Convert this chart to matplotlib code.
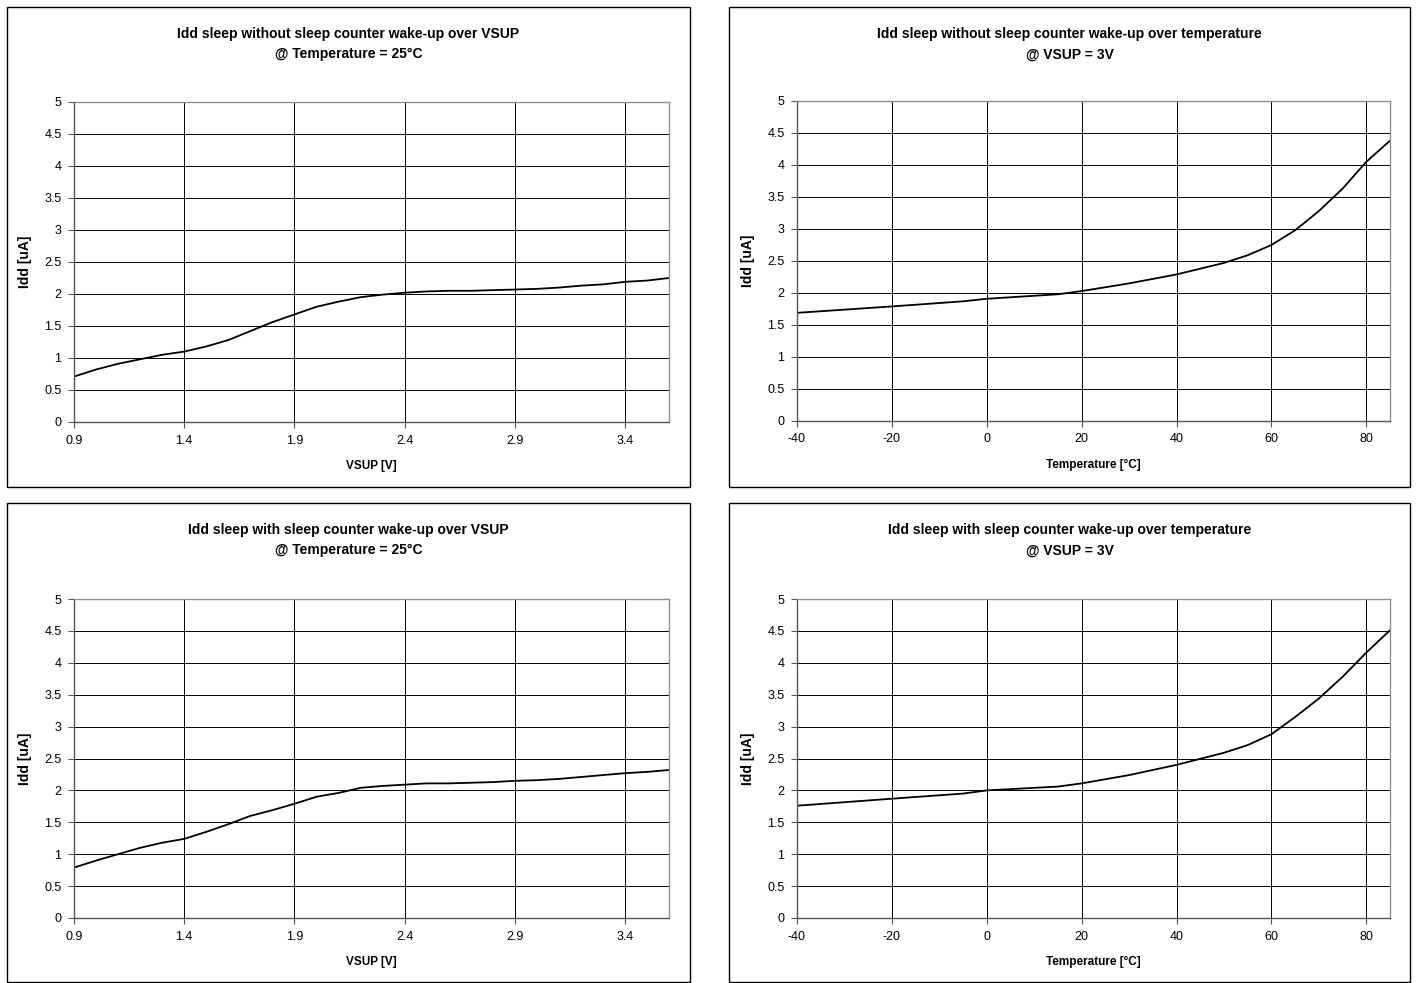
import numpy as np
import matplotlib
matplotlib.use('Agg')
from matplotlib import pyplot as plt
from matplotlib.patches import Rectangle

plt.rcParams['font.family'] = ['Liberation Sans', 'DejaVu Sans']
plt.rcParams['axes.unicode_minus'] = False

# Idd over VSUP @ 25°C
vsup = [0.9, 1.0, 1.1, 1.2, 1.3, 1.4, 1.5, 1.6, 1.7, 1.8, 1.9, 2.0, 2.1, 2.2, 2.3,
        2.4, 2.5, 2.6, 2.7, 2.8, 2.9, 3.0, 3.1, 3.2, 3.3, 3.4, 3.5, 3.6]
idd_vsup_no_wake = [0.71, 0.82, 0.91, 0.98, 1.05, 1.10, 1.18, 1.28, 1.42, 1.56, 1.68, 1.80,
                    1.88, 1.95, 1.99, 2.02, 2.04, 2.05, 2.05, 2.06, 2.07, 2.08, 2.10, 2.13,
                    2.15, 2.19, 2.21, 2.25]
idd_vsup_wake = [0.79, 0.90, 1.00, 1.10, 1.18, 1.24, 1.35, 1.47, 1.60, 1.69, 1.79, 1.90,
                 1.96, 2.04, 2.07, 2.09, 2.11, 2.11, 2.12, 2.13, 2.15, 2.16, 2.18, 2.21,
                 2.24, 2.27, 2.29, 2.32]

# Idd over temperature @ VSUP = 3V
temp = [-40, -20, -5, 0, 15, 20, 30, 40, 50, 55, 60, 65, 70, 75, 80, 85]
idd_temp_no_wake = [1.69, 1.79, 1.87, 1.91, 1.98, 2.03, 2.15, 2.29, 2.47, 2.59, 2.75,
                    2.98, 3.28, 3.63, 4.05, 4.38]
idd_temp_wake = [1.76, 1.87, 1.95, 2.00, 2.06, 2.11, 2.24, 2.40, 2.59, 2.71, 2.88,
                 3.15, 3.44, 3.78, 4.16, 4.51]

titles = [
    'Idd sleep without sleep counter wake-up over VSUP\n@ Temperature = 25°C',
    'Idd sleep without sleep counter wake-up over temperature\n@ VSUP = 3V',
    'Idd sleep with sleep counter wake-up over VSUP\n@ Temperature = 25°C',
    'Idd sleep with sleep counter wake-up over temperature\n@ VSUP = 3V',
]

W, H = 1417, 983
fig = plt.figure(figsize=(W / 100, H / 100), dpi=100)


def px_box(l, t, r, b):
    return [l / W, 1 - b / H, (r - l) / W, (b - t) / H]


boxes = [(7, 7, 690, 487), (729, 7, 1410, 487), (7, 503, 690, 982), (729, 503, 1410, 982)]
axes_px = [(74, 102, 669, 422), (797, 101, 1390, 421), (74, 599, 669, 918), (797, 599, 1390, 918)]

panels = [
    (vsup, idd_vsup_no_wake, 'VSUP [V]', (0.9, 3.6), np.arange(0.9, 3.5, 0.5)),
    (temp, idd_temp_no_wake, 'Temperature [°C]', (-40, 85), np.arange(-40, 81, 20)),
    (vsup, idd_vsup_wake, 'VSUP [V]', (0.9, 3.6), np.arange(0.9, 3.5, 0.5)),
    (temp, idd_temp_wake, 'Temperature [°C]', (-40, 85), np.arange(-40, 81, 20)),
]

for i, (x, y, xlabel, xlim, xticks) in enumerate(panels):
    l, t, r, b = boxes[i]
    fig.patches.append(Rectangle((l / W, 1 - b / H), (r - l) / W, (b - t) / H,
                                 transform=fig.transFigure, fill=False,
                                 edgecolor='black', linewidth=1.0))
    fig.text((l + r) / 2 / W, 1 - (t + 37) / H, titles[i], ha='center', va='center',
             fontsize=10, fontweight='bold', linespacing=1.6)

    ax = fig.add_axes(px_box(*axes_px[i]))
    ax.plot(x, y, color='black', linewidth=1.3)
    ax.set_xlim(*xlim)
    ax.set_ylim(0, 5)
    ax.set_xticks(xticks)
    if xlim[0] == 0.9:
        ax.set_xticklabels(['%.1f' % v for v in xticks])
    ax.set_yticks(np.arange(0, 5.01, 0.5))
    ax.set_yticklabels(['%g' % v for v in np.arange(0, 5.01, 0.5)])
    ax.grid(True, color='black', linewidth=0.7)
    ax.set_axisbelow(True)
    ax.tick_params(labelsize=9, length=4, width=0.8, color='#555555', pad=5)
    for s in ['top', 'right']:
        ax.spines[s].set_color('#909090')
        ax.spines[s].set_linewidth(1.0)
    for s in ['left', 'bottom']:
        ax.spines[s].set_color('#555555')
        ax.spines[s].set_linewidth(1.0)
    ax.set_xlabel(xlabel, fontsize=8.5, fontweight='bold', labelpad=10)
    ax.set_ylabel('Idd [uA]', fontsize=10, fontweight='bold', labelpad=9)

fig.savefig('out.png', dpi=100, facecolor='white')
